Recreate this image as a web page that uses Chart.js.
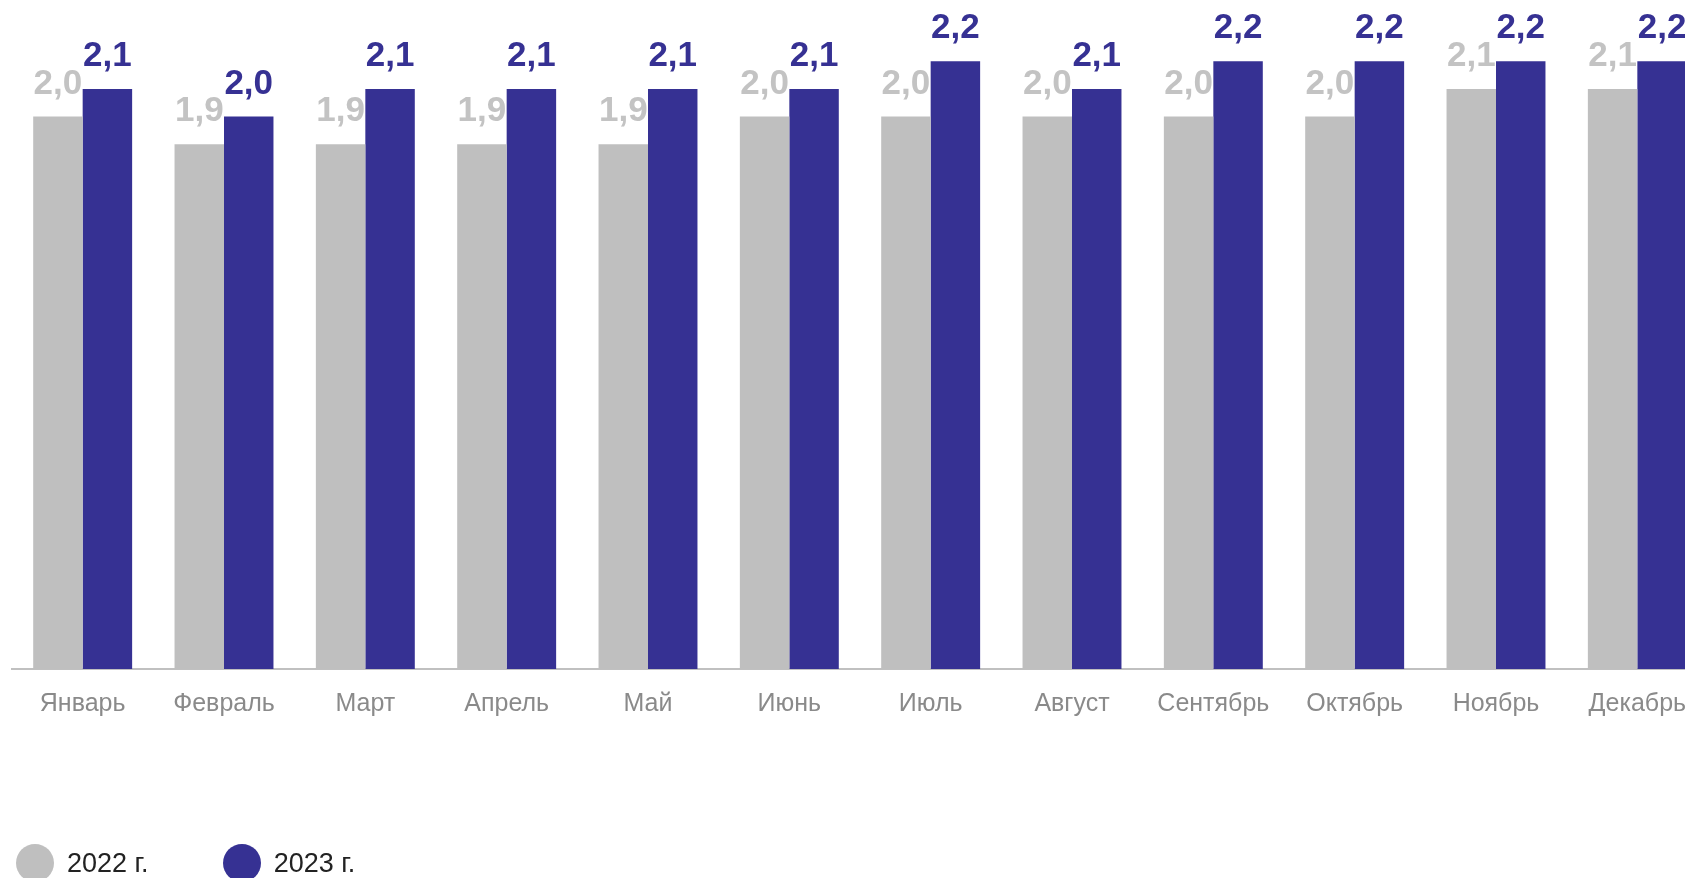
<!DOCTYPE html>
<html>
<head>
<meta charset="utf-8">
<script src="https://cdn.jsdelivr.net/npm/chart.js@4.4.1/dist/chart.umd.min.js"></script>
<style>
  html, body { margin: 0; padding: 0; background: #fff; overflow: hidden; width: 1685px; height: 878px; }
  #wrap { position: absolute; left: 0; top: 0; width: 1710px; height: 878px; }
  #legend { position: absolute; left: 16px; top: 844px; display: flex; font-family: "Liberation Sans", Arial, sans-serif; font-size: 27px; color: #222; }
  .item { display: flex; align-items: center; margin-right: 74px; height: 38px; }
  .dot { width: 38px; height: 38px; border-radius: 50%; }
  .txt { margin-left: 13px; line-height: 38px; }
</style>
</head>
<body>
<div id="wrap"><canvas id="c"></canvas></div>
<div id="legend"></div>
<script>
const categories = ["Январь", "Февраль", "Март", "Апрель", "Май", "Июнь", "Июль", "Август", "Сентябрь", "Октябрь", "Ноябрь", "Декабрь"];
const seriesNames = ["2022 г.", "2023 г."];
const values2022 = [2.0, 1.9, 1.9, 1.9, 1.9, 2.0, 2.0, 2.0, 2.0, 2.0, 2.1, 2.1];
const values2023 = [2.1, 2.0, 2.1, 2.1, 2.1, 2.1, 2.2, 2.1, 2.2, 2.2, 2.2, 2.2];
const colors = ["#bfbfbf", "#363193"];
const labelColors = ["#c3c3c3", "#363193"];

const valueLabels = {
  id: 'valueLabels',
  afterDatasetsDraw(chart) {
    const ctx = chart.ctx;
    ctx.save();
    ctx.font = 'bold 35px "Liberation Sans", Arial, sans-serif';
    ctx.textAlign = 'center';
    ctx.textBaseline = 'alphabetic';
    chart.data.datasets.forEach((ds, di) => {
      const meta = chart.getDatasetMeta(di);
      ctx.fillStyle = labelColors[di];
      meta.data.forEach((el, i) => {
        const txt = ds.data[i].toFixed(1).replace('.', ',');
        ctx.fillText(txt, el.x, el.y - 23);
      });
    });
    ctx.restore();
  }
};

const chart = new Chart(document.getElementById('c'), {
  type: 'bar',
  data: {
    labels: categories,
    datasets: [
      { label: seriesNames[0], data: values2022, backgroundColor: colors[0] },
      { label: seriesNames[1], data: values2023, backgroundColor: colors[1] }
    ]
  },
  options: {
    responsive: true,
    maintainAspectRatio: false,
    animation: false,
    devicePixelRatio: 1,
    layout: { padding: { left: 12, right: 2, top: 6, bottom: 139 } },
    datasets: { bar: { categoryPercentage: 0.7, barPercentage: 1.0 } },
    plugins: { legend: { display: false }, tooltip: { enabled: false } },
    scales: {
      x: {
        grid: { display: false, drawTicks: false },
        border: { display: true, color: '#c0c0c0', width: 2 },
        ticks: { color: '#8a8a8a', padding: 20, maxRotation: 0, autoSkip: false,
                 font: { family: '"Liberation Sans", Arial, sans-serif', size: 25 } }
      },
      y: {
        display: false,
        min: 0,
        max: 2.4
      }
    }
  },
  plugins: [valueLabels]
});

const legend = document.getElementById('legend');
chart.data.datasets.forEach((ds) => {
  const item = document.createElement('div');
  item.className = 'item';
  const dot = document.createElement('div');
  dot.className = 'dot';
  dot.style.background = ds.backgroundColor;
  const txt = document.createElement('div');
  txt.className = 'txt';
  txt.textContent = ds.label;
  item.appendChild(dot);
  item.appendChild(txt);
  legend.appendChild(item);
});
</script>
</body>
</html>
